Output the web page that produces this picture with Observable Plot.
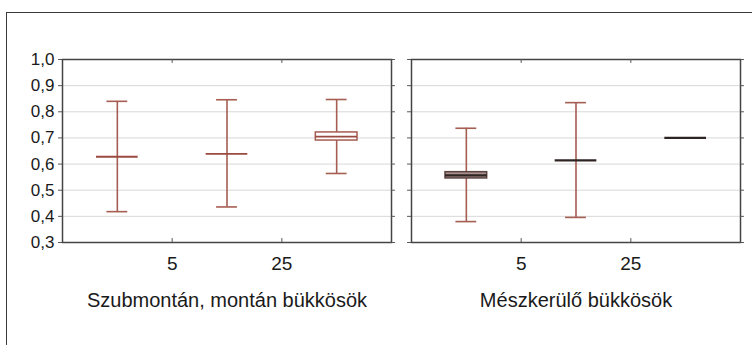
<!DOCTYPE html>
<html><head><meta charset="utf-8">
<script src="https://cdn.jsdelivr.net/npm/d3@7"></script>
<script src="https://cdn.jsdelivr.net/npm/@observablehq/plot@0.6"></script>
<style>
body{margin:0;background:#fff;}
#wrap{position:relative;width:752px;height:345px;overflow:hidden;}
#outer{position:absolute;left:6px;top:12px;right:-10px;bottom:-10px;border-left:1.5px solid #3a3a3a;border-top:1.5px solid #3a3a3a;pointer-events:none;}
</style></head><body><div id="wrap"><div id="chart"></div><div id="outer"></div></div>
<script>
// ---- data ----
const panels = ["Szubmontán, montán bükkösök", "Mészkerülő bükkösök"];
const classes = [0, 1, 2];
const xTicks = [1, 2];
const xTickLabels = ["5", "25"];
const yTicks = [0.3, 0.4, 0.5, 0.6, 0.7, 0.8, 0.9, 1.0];

const p1Lower   = [0.418, 0.436, 0.564];
const p1Median  = [0.628, 0.639, 0.705];
const p1Upper   = [0.840, 0.846, 0.847];
const p1BoxLow  = [null, null, 0.690];
const p1BoxHigh = [null, null, 0.721];

const p2Lower   = [0.380, 0.396, 0.700];
const p2Median  = [0.557, 0.614, 0.700];
const p2Upper   = [0.737, 0.835, 0.700];
const p2BoxLow  = [0.545, null, null];
const p2BoxHigh = [0.569, null, null];

// ---- table ----
const series = [
  [p1Lower, p1Median, p1Upper, p1BoxLow, p1BoxHigh],
  [p2Lower, p2Median, p2Upper, p2BoxLow, p2BoxHigh]
];
const rows = [];
panels.forEach((panel, pi) => classes.forEach((cls, ci) => {
  const [lo, me, up, bl, bh] = series[pi];
  rows.push({panel, pi, cls, lower: lo[ci], median: me[ci], upper: up[ci], boxLow: bl[ci], boxHigh: bh[ci]});
}));

// ---- styles ----
const WHISKER = "#a65d52";
const DARK = "#2e2422";
const MED = 0.19, CAP = 0.095, TK = 0.036;
const cx = d => d.cls + 0.5;

const chart = Plot.plot({
  width: 752, height: 345,
  marginLeft: 62, marginRight: 11, marginTop: 59, marginBottom: 103,
  style: {fontFamily: "'Liberation Sans', Arial, sans-serif", fontSize: "17px", color: "#1a1a1a", background: "transparent"},
  fx: {domain: panels, paddingInner: 0.057, paddingOuter: 0},
  x: {domain: [0, 3]},
  y: {domain: [0.3, 1.0]},
  marks: [
    Plot.gridY(yTicks.slice(1, -1), {stroke: "#d8d8d8", strokeOpacity: 1}),
    Plot.frame({stroke: "#444", strokeWidth: 1.5}),
    // small tick marks around the frames
    Plot.ruleY(yTicks, {x1: -TK, x2: 0, stroke: "#555"}),
    Plot.ruleY(yTicks, {x1: 3, x2: 3 + TK, stroke: "#555"}),
    Plot.ruleX(xTicks, {y1: 0.3, y2: 0.315, stroke: "#555"}),
    Plot.ruleX(xTicks, {y1: 0.985, y2: 1.0, stroke: "#555"}),
    // whiskers
    Plot.ruleX(rows.filter(d => d.upper > d.lower), {fx: "panel", x: cx, y1: "lower", y2: "upper", stroke: WHISKER, strokeWidth: 1.6}),
    Plot.ruleY(rows.filter(d => d.upper > d.lower), {fx: "panel", y: "upper", x1: d => cx(d) - CAP, x2: d => cx(d) + CAP, stroke: WHISKER, strokeWidth: 1.6}),
    Plot.ruleY(rows.filter(d => d.upper > d.lower), {fx: "panel", y: "lower", x1: d => cx(d) - CAP, x2: d => cx(d) + CAP, stroke: WHISKER, strokeWidth: 1.6}),
    // boxes
    Plot.rect(rows.filter(d => d.boxLow != null), {fx: "panel", x1: d => cx(d) - MED, x2: d => cx(d) + MED, y1: "boxLow", y2: "boxHigh",
      fill: d => d.pi ? "#a8918c" : "white", stroke: d => d.pi ? "#5a4340" : WHISKER, strokeWidth: 1.5}),
    // medians
    Plot.ruleY(rows, {fx: "panel", y: "median", x1: d => cx(d) - MED, x2: d => cx(d) + MED,
      stroke: d => d.pi ? DARK : "#9a4a40", strokeWidth: d => d.pi ? 2.2 : 1.8}),
    // axes
    Plot.axisY(yTicks, {anchor: "left", tickSize: 0, tickPadding: 8, tickFormat: d => d.toFixed(1).replace(".", ","), fontSize: 17, label: null}),
    Plot.axisX(xTicks, {anchor: "bottom", tickSize: 0, tickPadding: 14, tickFormat: (d, i) => xTickLabels[xTicks.indexOf(d)], fontSize: 19, label: null}),
    Plot.axisFx({anchor: "bottom", tickSize: 0, tickPadding: 50, fontSize: 20, label: null})
  ]
});
document.getElementById("chart").appendChild(chart);
</script></body></html>
